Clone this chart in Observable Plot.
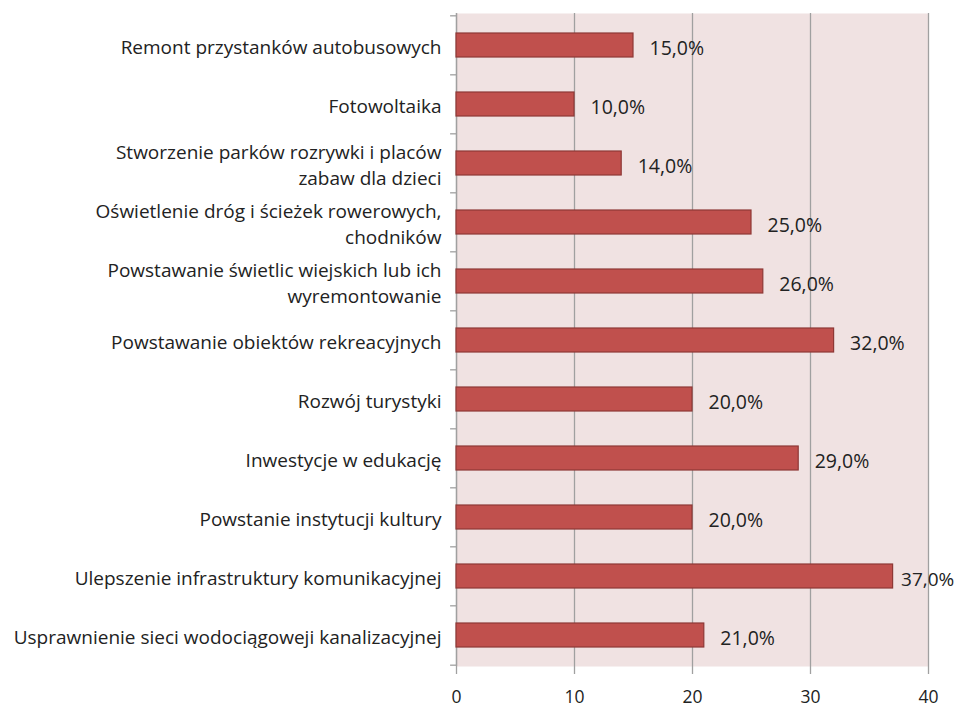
<!DOCTYPE html>
<html>
<head>
<meta charset="utf-8">
<script src="https://cdn.jsdelivr.net/npm/d3@7"></script>
<script src="https://cdn.jsdelivr.net/npm/@observablehq/plot@0.6"></script>
<style>
  body { margin: 0; background: #fff; }
  #chart { width: 960px; height: 707px; }
</style>
</head>
<body>
<div id="chart"></div>
<script>
const categories = [
  "Remont przystanków autobusowych",
  "Fotowoltaika",
  "Stworzenie parków rozrywki i placów\nzabaw dla dzieci",
  "Oświetlenie dróg i ścieżek rowerowych,\nchodników",
  "Powstawanie świetlic wiejskich lub ich\nwyremontowanie",
  "Powstawanie obiektów rekreacyjnych",
  "Rozwój turystyki",
  "Inwestycje w edukację",
  "Powstanie instytucji kultury",
  "Ulepszenie infrastruktury komunikacyjnej",
  "Usprawnienie sieci wodociągoweji kanalizacyjnej"
];
const values = [15, 10, 14, 25, 26, 32, 20, 29, 20, 37, 21];
const xTicks = [0, 10, 20, 30, 40];

const data = categories.map((c, i) => ({category: c, value: values[i]}));

const W = 960, H = 707;
const mTop = 13, mBottom = 41, mLeft = 456, mRight = 32;
const step = (H - mTop - mBottom) / categories.length;
const font = "Open Sans, sans-serif";
const gridColor = "#a0a0a0";
const textColor = "#222";
const fmt = d => d.value.toFixed(1).replace(".", ",") + "%";
const nearEdge = d => d.value > 35;

const chart = Plot.plot({
  width: W,
  height: H,
  marginTop: mTop,
  marginBottom: mBottom,
  marginLeft: mLeft,
  marginRight: mRight,
  style: {fontFamily: font, fontSize: "19px", color: textColor, background: "#fff"},
  x: {domain: [0, 40], ticks: xTicks},
  y: {domain: categories, padding: 0.6, paddingOuter: 0.3, align: 0.5},
  marks: [
    Plot.frame({fill: "#f0e2e2", stroke: null}),
    Plot.gridX(xTicks, {stroke: gridColor, strokeOpacity: 1, strokeWidth: 1.3}),
    Plot.ruleX([0], {stroke: gridColor, strokeWidth: 1.3}),
    Plot.ruleY([0], {frameAnchor: "bottom", stroke: gridColor, strokeWidth: 1.3}),
    // category boundary ticks on the y axis
    Plot.ruleY(categories, {y: d => d, x1: -0.5, x2: 0, dy: -step / 2, stroke: gridColor, strokeWidth: 1.3}),
    Plot.ruleY(categories.slice(-1), {y: d => d, x1: -0.5, x2: 0, dy: step / 2, stroke: gridColor, strokeWidth: 1.3}),
    Plot.barX(data, {
      x: "value", y: "category",
      fill: "#c0504d", stroke: "#8e3836", strokeWidth: 1.2
    }),
    Plot.text(data.filter(d => !nearEdge(d)), {
      x: "value", y: "category", text: fmt,
      textAnchor: "start", dx: 16, dy: 3,
      fill: textColor, fontSize: 19.5
    }),
    Plot.text(data.filter(nearEdge), {
      x: "value", y: "category", text: fmt,
      textAnchor: "start", dx: 8, dy: 3,
      fill: textColor, fontSize: 19
    }),
    Plot.axisY({
      tickSize: 0, tickPadding: 15, fontSize: 19, lineHeight: 1.4,
      label: null, fill: textColor
    }),
    Plot.axisX(xTicks, {
      tickSize: 8, tickPadding: 16, stroke: gridColor, strokeWidth: 1.3,
      fontSize: 17.5, label: null, fill: textColor
    })
  ]
});
document.getElementById("chart").appendChild(chart);
</script>
</body>
</html>
